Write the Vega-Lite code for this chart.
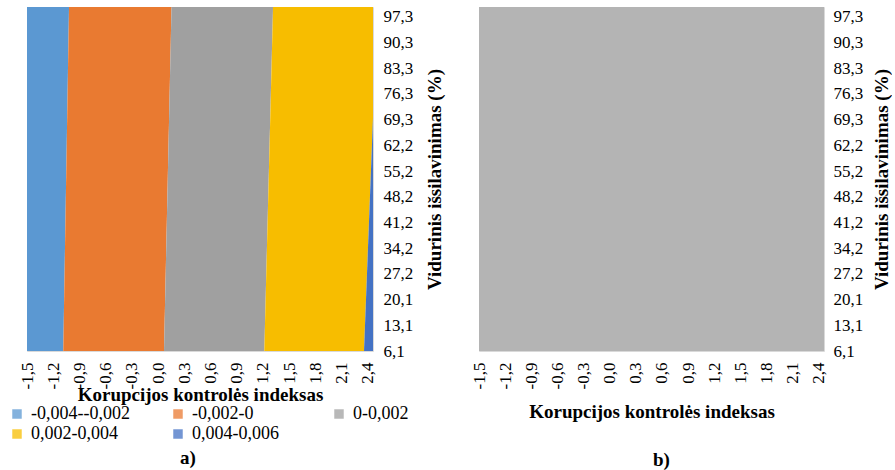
{
  "$schema": "https://vega.github.io/schema/vega-lite/v6.json",
  "background": "white",
  "padding": {"left": 8, "top": 6, "right": 0, "bottom": 0},
  "bounds": "flush",
  "spacing": 106,
  "config": {
    "locale": {"number": {"decimal": ",", "thousands": " ", "grouping": [3], "currency": ["", ""], "minus": "-"}},
    "font": "Liberation Serif",
    "view": {"stroke": "#D9D9D9", "strokeWidth": 1},
    "axis": {
      "domain": false,
      "ticks": false,
      "grid": false,
      "labelFont": "Liberation Serif",
      "labelFontSize": 17,
      "labelColor": "#000000",
      "titleFont": "Liberation Serif",
      "titleFontSize": 19,
      "titleFontWeight": "bold",
      "titleColor": "#000000",
      "labelFlush": false,
      "labelOverlap": false
    },
    "title": {"font": "Liberation Serif", "fontSize": 19, "fontWeight": "bold", "color": "#000000"}
  },
  "datasets": {
    "zonos": [
      {"intervalas": "-0,004--0,002", "y": 6.1, "x_nuo": -1.5, "x_iki": -1.085},
      {"intervalas": "-0,004--0,002", "y": 100, "x_nuo": -1.5, "x_iki": -1.019},
      {"intervalas": "-0,002-0", "y": 6.1, "x_nuo": -1.085, "x_iki": 0.068},
      {"intervalas": "-0,002-0", "y": 100, "x_nuo": -1.019, "x_iki": 0.154},
      {"intervalas": "0-0,002", "y": 6.1, "x_nuo": 0.068, "x_iki": 1.216},
      {"intervalas": "0-0,002", "y": 100, "x_nuo": 0.154, "x_iki": 1.316},
      {"intervalas": "0,002-0,004", "y": 6.1, "x_nuo": 1.216, "x_iki": 2.357},
      {"intervalas": "0,002-0,004", "y": 69.7, "x_nuo": 1.284, "x_iki": 2.46},
      {"intervalas": "0,002-0,004", "y": 100, "x_nuo": 1.316, "x_iki": 2.46},
      {"intervalas": "0,004-0,006", "y": 6.1, "x_nuo": 2.357, "x_iki": 2.46},
      {"intervalas": "0,004-0,006", "y": 69.7, "x_nuo": 2.46, "x_iki": 2.46}
    ],
    "pavirsius_b": [
      {"x_nuo": -1.5, "x_iki": 2.46, "y_nuo": 6.1, "y_iki": 100}
    ]
  },
  "hconcat": [
    {
      "width": 346,
      "height": 344,
      "title": {"text": "a)", "orient": "bottom", "anchor": "middle", "dx": -12, "offset": 45},
      "data": {"name": "zonos"},
      "mark": {"type": "area", "orient": "horizontal", "clip": true},
      "encoding": {
        "y": {
          "field": "y",
          "type": "quantitative",
          "scale": {"domain": [6.1, 100], "nice": false, "zero": false},
          "axis": {
            "orient": "right",
            "values": [6.1, 13.1, 20.1, 27.2, 34.2, 41.2, 48.2, 55.2, 62.2, 69.3, 76.3, 83.3, 90.3, 97.3],
            "format": ".1f",
            "labelPadding": 10,
            "title": "Vidurinis išsilavinimas (%)",
            "titleAngle": 270,
            "titleBaseline": "middle",
            "titleX": 61
          }
        },
        "x": {
          "field": "x_nuo",
          "type": "quantitative",
          "scale": {"domain": [-1.5, 2.46], "nice": false, "zero": false},
          "axis": {
            "values": [-1.5, -1.2, -0.9, -0.6, -0.3, 0, 0.3, 0.6, 0.9, 1.2, 1.5, 1.8, 2.1, 2.4],
            "format": ".1f",
            "labelAngle": -90,
            "labelPadding": 11,
            "title": "Korupcijos kontrolės indeksas",
            "titleBaseline": "middle",
            "titleY": 43
          }
        },
        "x2": {"field": "x_iki"},
        "color": {
          "field": "intervalas",
          "type": "nominal",
          "scale": {
            "domain": ["-0,004--0,002", "-0,002-0", "0-0,002", "0,002-0,004", "0,004-0,006"],
            "range": ["#5B98D2", "#E97A31", "#A0A0A0", "#F7BD00", "#4472C4"]
          },
          "legend": {
            "title": null,
            "orient": "none",
            "legendX": -19,
            "legendY": 398,
            "direction": "horizontal",
            "columns": 3,
            "gridAlign": "all",
            "columnPadding": 39,
            "rowPadding": 2,
            "symbolType": "square",
            "symbolSize": 90,
            "symbolOpacity": 0.75,
            "symbolStrokeWidth": 1,
            "labelFont": "Liberation Serif",
            "labelFontSize": 18,
            "labelColor": "#000000",
            "labelOffset": 5,
            "labelLimit": 200
          }
        }
      }
    },
    {
      "width": 345,
      "height": 344,
      "title": {"text": "b)", "orient": "bottom", "anchor": "middle", "dx": 10, "offset": 30},
      "data": {"name": "pavirsius_b"},
      "mark": {"type": "rect", "color": "#B4B4B4"},
      "encoding": {
        "y": {
          "field": "y_nuo",
          "type": "quantitative",
          "scale": {"domain": [6.1, 100], "nice": false, "zero": false},
          "axis": {
            "orient": "right",
            "values": [6.1, 13.1, 20.1, 27.2, 34.2, 41.2, 48.2, 55.2, 62.2, 69.3, 76.3, 83.3, 90.3, 97.3],
            "format": ".1f",
            "labelPadding": 9,
            "title": "Vidurinis išsilavinimas (%)",
            "titleAngle": 270,
            "titleBaseline": "middle",
            "titleX": 57
          }
        },
        "y2": {"field": "y_iki"},
        "x": {
          "field": "x_nuo",
          "type": "quantitative",
          "scale": {"domain": [-1.5, 2.46], "nice": false, "zero": false},
          "axis": {
            "values": [-1.5, -1.2, -0.9, -0.6, -0.3, 0, 0.3, 0.6, 0.9, 1.2, 1.5, 1.8, 2.1, 2.4],
            "format": ".1f",
            "labelAngle": -90,
            "labelPadding": 11,
            "title": "Korupcijos kontrolės indeksas",
            "titleBaseline": "middle",
            "titleY": 60
          }
        },
        "x2": {"field": "x_iki"}
      }
    }
  ]
}
